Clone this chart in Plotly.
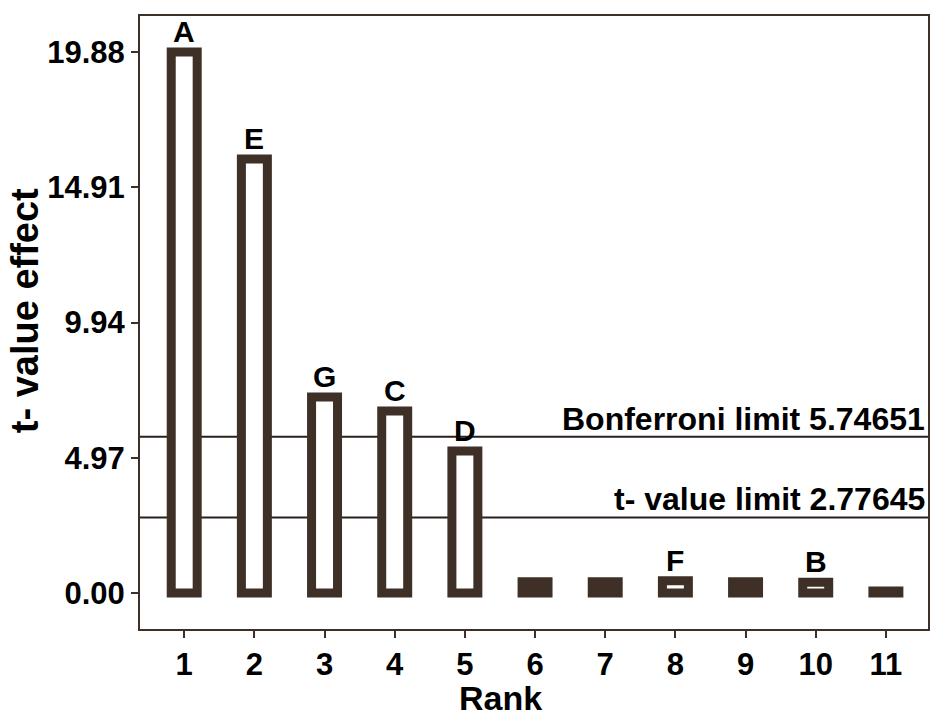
import plotly.graph_objects as go

ranks = [1, 2, 3, 4, 5, 6, 7, 8, 9, 10, 11]
t_values = [19.88, 15.95, 7.2, 6.69, 5.22, 0.42, 0.42, 0.45, 0.42, 0.4, 0.08]
effect_labels = ["A", "E", "G", "C", "D", "", "", "F", "", "B", ""]
bar_fills = ["white", "white", "white", "white", "white", "#3e2f27", "#3e2f27", "white", "#3e2f27", "white", "#3e2f27"]
y_ticks = [0.00, 4.97, 9.94, 14.91, 19.88]
y_ticktext = ["0.00", "4.97", "9.94", "14.91", "19.88"]
bonferroni_limit = 5.74651
t_value_limit = 2.77645

brown = "#3e2f27"
font_family = "Liberation Sans, Arial, sans-serif"

fig = go.Figure()
fig.add_trace(go.Bar(
    x=ranks, y=t_values, width=0.37,
    marker=dict(color=bar_fills, line=dict(color=brown, width=9)),
    showlegend=False, hoverinfo="skip",
))

for xv, yv, lab in zip(ranks, t_values, effect_labels):
    if lab:
        fig.add_annotation(x=xv, y=yv, text=lab, showarrow=False,
                           yanchor="bottom", yshift=2,
                           font=dict(family=font_family, size=30, color="black", weight="bold"))

for val, txt in [(bonferroni_limit, "Bonferroni limit 5.74651"), (t_value_limit, "t- value limit 2.77645")]:
    fig.add_shape(type="line", xref="paper", x0=0, x1=1, yref="y", y0=val, y1=val,
                  line=dict(color="#2a201b", width=2), layer="below")
    fig.add_annotation(xref="paper", x=1, y=val, text=txt, showarrow=False,
                       xanchor="right", yanchor="bottom", xshift=-1, yshift=-2,
                       font=dict(family=font_family, size=32, color="black", weight="bold"))

# axis titles
fig.add_annotation(xref="paper", yref="paper", x=0.458, y=-0.112, text="Rank", showarrow=False,
                   xanchor="center", yanchor="middle",
                   font=dict(family=font_family, size=34, color="black", weight="bold"))
fig.add_annotation(xref="paper", yref="paper", x=-0.146, y=0.52, text="t- value effect", showarrow=False,
                   xanchor="center", yanchor="middle", textangle=-90,
                   font=dict(family=font_family, size=38, color="black", weight="bold"))

axis_font = dict(family=font_family, size=31, color="black", weight="bold")
fig.update_xaxes(
    range=[0.37, 11.6], tickvals=ranks, ticktext=[str(r) for r in ranks],
    showline=True, linecolor=brown, linewidth=2, mirror=True,
    ticks="outside", ticklen=7, tickwidth=2, tickcolor=brown,
    showgrid=False, zeroline=False, tickfont=axis_font,
)
fig.update_yaxes(
    range=[-1.32, 21.2], tickvals=y_ticks, ticktext=y_ticktext,
    showline=True, linecolor=brown, linewidth=2, mirror=True,
    ticks="outside", ticklen=7, tickwidth=2, tickcolor=brown,
    showgrid=False, zeroline=False, tickfont=axis_font,
)
fig.update_layout(
    width=933, height=722,
    margin=dict(l=140, r=3, t=16, b=93),
    plot_bgcolor="white", paper_bgcolor="white",
    bargap=0.5,
)
fig.write_html("out.html")
